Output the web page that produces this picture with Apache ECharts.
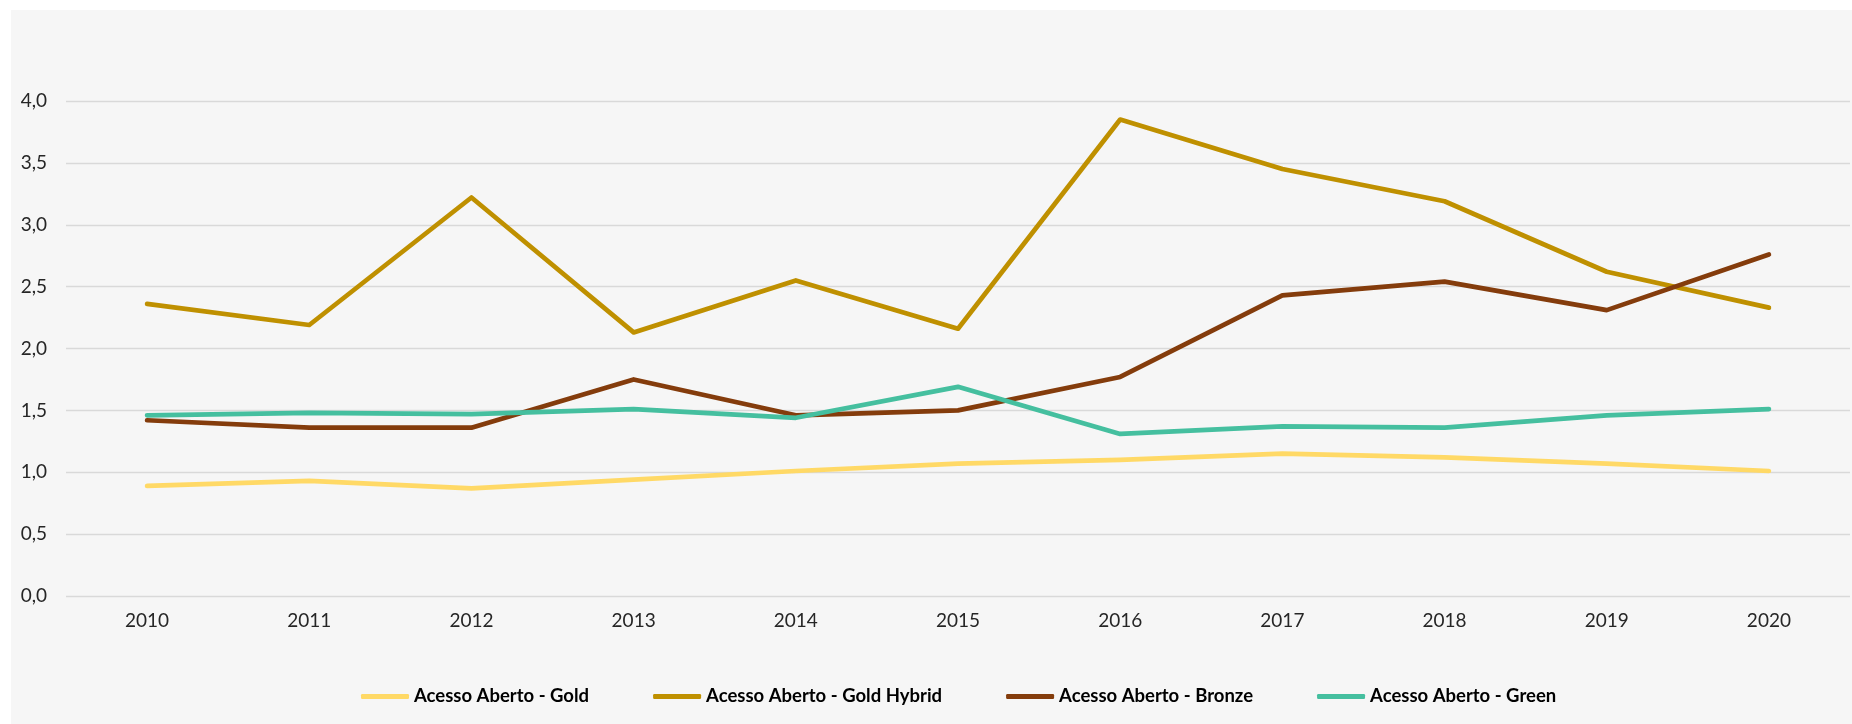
<!DOCTYPE html>
<html>
<head>
<meta charset="utf-8">
<script src="https://cdn.jsdelivr.net/npm/echarts@6/dist/echarts.min.js"></script>
<style>
    html, body { margin: 0; padding: 0; background: #ffffff; }
    #panel { position: absolute; left: 11px; top: 10px; width: 1841px; height: 714px; background: #f6f6f6; }
    #main { position: absolute; left: 0; top: 0; width: 1852px; height: 724px; }
</style>
</head>
<body>
<div id="panel"></div>
<div id="main"></div>
<script>
var years = ['2010', '2011', '2012', '2013', '2014', '2015', '2016', '2017', '2018', '2019', '2020'];

var gold = [0.89, 0.93, 0.87, 0.94, 1.01, 1.07, 1.10, 1.15, 1.12, 1.07, 1.01];
var goldHybrid = [2.36, 2.19, 3.22, 2.13, 2.55, 2.16, 3.85, 3.45, 3.19, 2.62, 2.33];
var bronze = [1.42, 1.36, 1.36, 1.75, 1.46, 1.50, 1.77, 2.43, 2.54, 2.31, 2.76];
var green = [1.46, 1.48, 1.47, 1.51, 1.44, 1.69, 1.31, 1.37, 1.36, 1.46, 1.51];

var names = ['Acesso Aberto - Gold', 'Acesso Aberto - Gold Hybrid', 'Acesso Aberto - Bronze', 'Acesso Aberto - Green'];
var colors = ['#ffd966', '#bf9000', '#843c0c', '#45bf9f'];

var chart = echarts.init(document.getElementById('main'));

function lineSeries(i, data) {
    return {
        name: names[i],
        type: 'line',
        data: data,
        symbol: 'none',
        itemStyle: { color: colors[i] },
        lineStyle: { color: colors[i], width: 4.7, cap: 'round', join: 'round' }
    };
}

chart.setOption({
    animation: false,
    textStyle: { fontFamily: 'Lato' },
    grid: { left: 66, right: 2, top: 101, bottom: 128 },
    legend: {
        left: 356,
        top: 682,
        icon: 'roundRect',
        itemWidth: 48,
        itemHeight: 5,
        itemGap: 64,
        textStyle: { fontFamily: 'Lato', fontSize: 18.5, fontWeight: 'bold', color: '#000000' },
        data: names
    },
    xAxis: {
        type: 'category',
        data: years,
        boundaryGap: true,
        axisLine: { show: false },
        axisTick: { show: false },
        axisLabel: { margin: 15, fontSize: 19, color: '#262626', fontFamily: 'Lato' }
    },
    yAxis: {
        type: 'value',
        min: 0,
        max: 4,
        interval: 0.5,
        axisLine: { show: false },
        axisTick: { show: false },
        splitLine: { lineStyle: { color: '#d9d9d9', width: 1.3 } },
        axisLabel: {
            margin: 19,
            fontSize: 19,
            color: '#262626',
            fontFamily: 'Lato',
            formatter: function (v) {
                return v.toFixed(1).replace('.', ',');
            }
        }
    },
    series: [
        lineSeries(0, gold),
        lineSeries(1, goldHybrid),
        lineSeries(2, bronze),
        lineSeries(3, green)
    ]
});
</script>
</body>
</html>
